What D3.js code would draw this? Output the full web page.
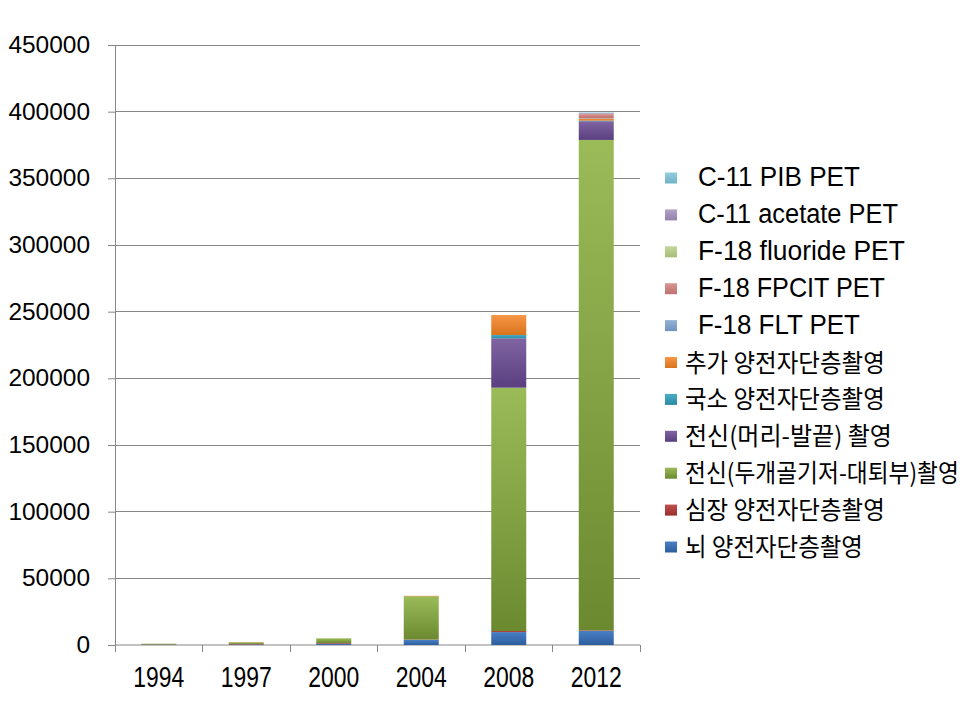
<!DOCTYPE html>
<html><head><meta charset="utf-8">
<script src="https://cdn.jsdelivr.net/npm/d3@7"></script>
<style>body{margin:0;background:#fff}</style>
</head><body>
<svg id="c" width="979" height="704"></svg>
<script>
const years = ["1994","1997","2000","2004","2008","2012"];
const seriesNames = ["뇌 양전자단층촬영","심장 양전자단층촬영","전신(두개골기저-대퇴부)촬영","전신(머리-발끝) 촬영","국소 양전자단층촬영","추가 양전자단층촬영"," F-18 FLT PET"," F-18 FPCIT PET"," F-18 fluoride PET"," C-11 acetate PET"," C-11 PIB PET"];
const brain    = [300, 400, 1000, 3800, 9700, 10500];
const heart    = [200, 400, 500, 300, 800, 500];
const wholeBody= [500, 1200, 3500, 32500, 182500, 367800];
const headToe  = [0, 0, 0, 0, 37000, 14000];
const local    = [0, 0, 0, 0, 2500, 500];
const extra    = [0, 200, 0, 300, 15000, 1600];
const flt      = [0, 0, 0, 0, 0, 300];
const fpcit    = [0, 0, 0, 0, 0, 3000];
const fluoride = [0, 0, 0, 0, 0, 300];
const acetate  = [0, 0, 0, 0, 0, 500];
const pib      = [0, 0, 0, 0, 0, 400];
const yTicks = [0,50000,100000,150000,200000,250000,300000,350000,400000,450000];
const colorsTop = ["#4a7fc4","#c0504d","#9bbb59","#8064a2","#4bacc6","#f79646","#95b3d7","#d99694","#c3d69b","#b3a2c7","#93cddd"];
const colorsBot = ["#2c5e9e","#9b2d2a","#6b8a30","#5a3f80","#2a8aa6","#d9731d","#6f93be","#c0706e","#a6bd78","#9480ad","#6fb3c6"];

const seriesVals = [brain,heart,wholeBody,headToe,local,extra,flt,fpcit,fluoride,acetate,pib];
const table = years.map((y,i)=>{const o={year:y}; seriesNames.forEach((s,k)=>o[s]=seriesVals[k][i]); return o;});

const svg = d3.select("#c");
const defs = svg.append("defs");
seriesNames.forEach((s,k)=>{
  const g = defs.append("linearGradient").attr("id","g"+k).attr("x1",0).attr("y1",0).attr("x2",0).attr("y2",1);
  g.append("stop").attr("offset","0%").attr("stop-color",colorsTop[k]);
  g.append("stop").attr("offset","100%").attr("stop-color",colorsBot[k]);
});

const x = d3.scaleBand().domain(years).range([115,640]).paddingInner(0.6).paddingOuter(0.3);
const y = d3.scaleLinear().domain([0,450000]).range([645,45]);

// gridlines
svg.append("g").selectAll("line").data(yTicks.slice(1)).join("line")
  .attr("x1",115).attr("x2",640).attr("y1",d=>y(d)).attr("y2",d=>y(d))
  .attr("stroke","#868686").attr("stroke-width",1).attr("shape-rendering","crispEdges");

// y axis
const yAxis = svg.append("g").attr("transform","translate(115,0)")
  .call(d3.axisLeft(y).tickValues(yTicks).tickSize(7).tickSizeOuter(0).tickPadding(18).tickFormat(d=>String(d)));
yAxis.select(".domain").attr("stroke","#868686");
yAxis.selectAll(".tick line").attr("stroke","#868686");
yAxis.selectAll("text").attr("font-family","Liberation Sans, Arial, sans-serif").attr("font-size",23).attr("fill","#000")
  .attr("textLength",d=>String(d).length*13.6).attr("lengthAdjust","spacingAndGlyphs");

// x axis
const xAxis = svg.append("g").attr("transform","translate(0,645)")
  .call(d3.axisBottom(x).tickSize(0).tickPadding(21));
xAxis.select(".domain").attr("stroke","#868686").attr("d","M115,0H640");
xAxis.selectAll("text").attr("font-family","Liberation Sans, Arial, sans-serif").attr("font-size",29).attr("fill","#000")
  .attr("textLength",51).attr("lengthAdjust","spacingAndGlyphs");
const step = x.step();
svg.append("g").selectAll("line").data(d3.range(years.length+1)).join("line")
  .attr("x1",i=>115+i*step).attr("x2",i=>115+i*step).attr("y1",645).attr("y2",652)
  .attr("stroke","#868686").attr("shape-rendering","crispEdges");

// bars
const stacked = d3.stack().keys(seriesNames)(table);
svg.append("g").selectAll("g").data(stacked).join("g")
  .attr("fill",(d,k)=>`url(#g${k})`)
  .selectAll("rect").data(d=>d).join("rect")
  .attr("x",d=>x(d.data.year)).attr("width",x.bandwidth())
  .attr("y",d=>y(d[1])).attr("height",d=>Math.max(0,y(d[0])-y(d[1])));

// legend (widths indexed like seriesNames)
const legendWidths = [178,200,274,207,200,200,162,187,207,200,162];
const leg = svg.append("g");
const order = d3.range(seriesNames.length).reverse();
order.forEach((k,i)=>{
  const cy = 178 + i*36.9;
  leg.append("rect").attr("x",665).attr("y",cy-5.5).attr("width",12).attr("height",11).attr("fill",`url(#g${k})`);
  const isPet = seriesNames[k].startsWith(" ");
  const tx = isPet?698:685, ty = cy+(isPet?8:9);
  const t = leg.append("text").attr("x",0).attr("y",0)
    .attr("font-family", isPet?"Liberation Sans, Arial, sans-serif":"Noto Sans CJK KR, sans-serif")
    .attr("font-size", isPet?27:25).attr("fill","#000")
    .text(seriesNames[k].trim());
  const w = t.node().getComputedTextLength();
  const sx = w>0 ? legendWidths[k]/w : 1;
  t.attr("transform",`translate(${tx},${ty}) scale(${sx},1)`);
});
</script>
</body></html>
